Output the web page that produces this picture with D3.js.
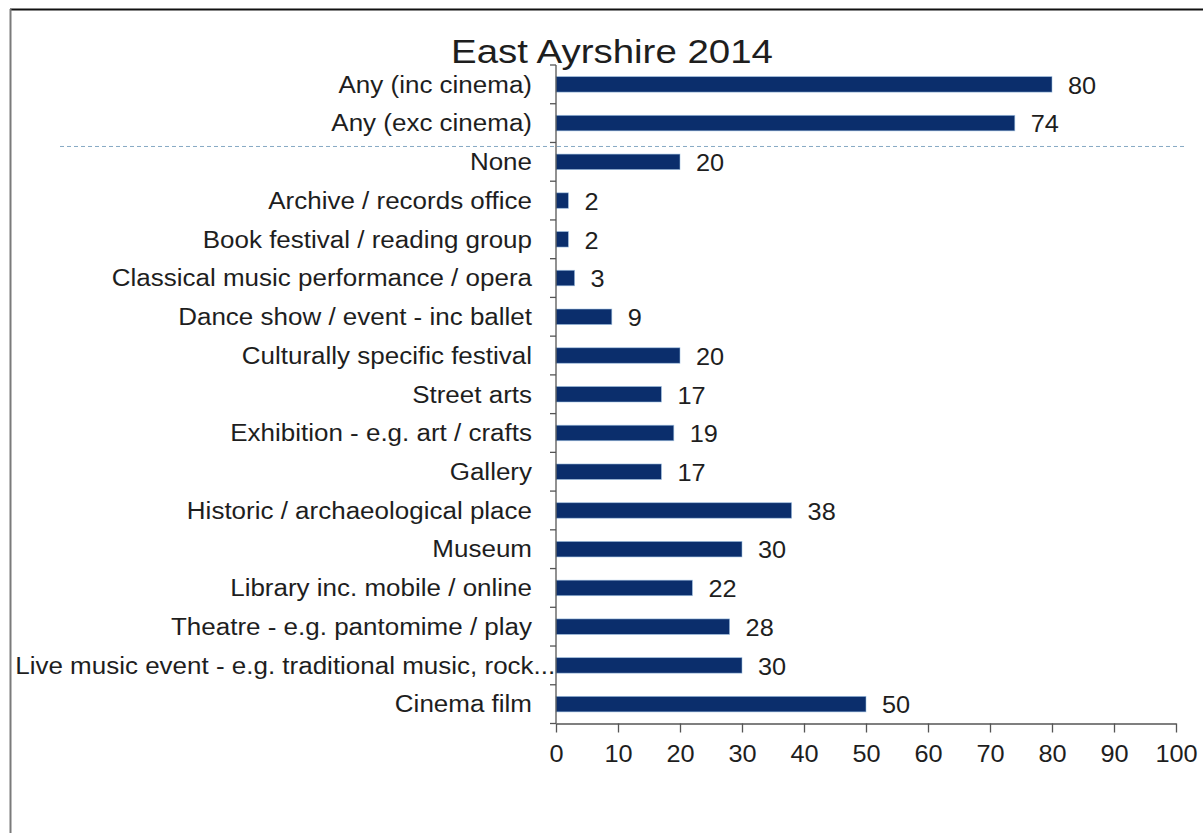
<!DOCTYPE html>
<html>
<head>
<meta charset="utf-8">
<script src="https://cdn.jsdelivr.net/npm/d3@7"></script>
<style>
  html, body { margin: 0; padding: 0; background: #fff; }
  svg { display: block; }
  text { font-family: "Liberation Sans", Arial, sans-serif; fill: #1e1e1e; }
</style>
</head>
<body>
<svg id="chart" width="1203" height="833"></svg>
<script>
// Attendance at cultural events / places, East Ayrshire 2014 (%)
const title = "East Ayrshire 2014";
const categories = [
  "Any (inc cinema)",
  "Any (exc cinema)",
  "None",
  "Archive / records office",
  "Book festival / reading group",
  "Classical music performance / opera",
  "Dance show / event - inc ballet",
  "Culturally specific festival",
  "Street arts",
  "Exhibition - e.g. art / crafts",
  "Gallery",
  "Historic / archaeological place",
  "Museum",
  "Library inc. mobile / online",
  "Theatre - e.g. pantomime / play",
  "Live music event - e.g. traditional music, rock...",
  "Cinema film"
];
const values = [80, 74, 20, 2, 2, 3, 9, 20, 17, 19, 17, 38, 30, 22, 28, 30, 50];
const xTicks = [0, 10, 20, 30, 40, 50, 60, 70, 80, 90, 100];
// the two summary rows sit above the separator line
const summaryRows = 2;

const svg = d3.select("#chart");
const W = 1203, H = 833;

const plot = { left: 556, right: 1176, top: 65, bottom: 723.5 };
const labelStretch = 1.13;
const valueStretch = 1.1;
const barColor = "#0b2e6c";
const axisColor = "#555";

svg.append("rect").attr("width", W).attr("height", H).attr("fill", "#fff");

// frame (top and left edges)
svg.append("line").attr("x1", 10).attr("x2", W).attr("y1", 9.5).attr("y2", 9.5)
  .attr("stroke", "#111").attr("stroke-width", 2);
svg.append("line").attr("x1", 10.5).attr("x2", 10.5).attr("y1", 9).attr("y2", H)
  .attr("stroke", "#7a7a7a").attr("stroke-width", 2);

const x = d3.scaleLinear().domain([0, 100]).range([plot.left, plot.right]);
const y = d3.scaleBand().domain(categories).range([plot.top, plot.bottom])
  .paddingInner(0.6).paddingOuter(0.3);
const step = y.step();
const gap = step - y.bandwidth();

// separator between summary rows and the individual activities
const sepY = y(categories[summaryRows]) - gap / 2 + 4;
svg.append("line")
  .attr("x1", 60).attr("x2", 1185).attr("y1", sepY).attr("y2", sepY)
  .attr("stroke", "#86a9c4").attr("stroke-width", 1).attr("stroke-dasharray", "4,3");

// bars
svg.append("g").selectAll("rect")
  .data(values)
  .join("rect")
  .attr("x", x(0))
  .attr("y", (d, i) => y(categories[i]))
  .attr("width", d => x(d) - x(0))
  .attr("height", y.bandwidth())
  .attr("fill", barColor)
  .attr("stroke", "#9cc0e2").attr("stroke-width", 0.8).attr("stroke-opacity", 0.7);

// value labels
svg.append("g").selectAll("text")
  .data(values)
  .join("text")
  .attr("transform", (d, i) => `translate(${x(d) + 16},${y(categories[i]) + y.bandwidth() / 2 + 1}) scale(${valueStretch},1)`)
  .attr("dy", "0.36em")
  .attr("font-size", 23)
  .text(d => d);

// x axis
const xAxis = svg.append("g")
  .attr("transform", `translate(0,${plot.bottom})`)
  .call(d3.axisBottom(x).tickValues(xTicks).tickSize(9).tickSizeOuter(0).tickPadding(0));
xAxis.select(".domain").attr("stroke", axisColor).attr("stroke-width", 1.3);
xAxis.selectAll(".tick line").attr("stroke", axisColor).attr("stroke-width", 1.3);
xAxis.selectAll(".tick text")
  .attr("y", 39).attr("dy", 0)
  .attr("font-size", 23)
  .attr("fill", "#1e1e1e")
  .attr("font-family", "Liberation Sans, Arial, sans-serif")
  .attr("transform", `scale(${valueStretch},1)`);

// y axis line and ticks at category boundaries
svg.append("line")
  .attr("x1", plot.left).attr("x2", plot.left)
  .attr("y1", plot.top).attr("y2", plot.bottom)
  .attr("stroke", axisColor).attr("stroke-width", 1.3);
const boundaries = categories.map(c => y(c) - gap / 2).concat([plot.bottom]);
svg.append("g").selectAll("line")
  .data(boundaries)
  .join("line")
  .attr("x1", plot.left - 6).attr("x2", plot.left)
  .attr("y1", d => d).attr("y2", d => d)
  .attr("stroke", axisColor).attr("stroke-width", 1.3);

// category labels, right aligned against the axis, kept inside the frame
const labels = svg.append("g").selectAll("text")
  .data(categories)
  .join("text")
  .attr("text-anchor", "end")
  .attr("dy", "0.36em")
  .attr("font-size", 23)
  .text(d => d);
labels.each(function (d) {
  const w = this.getComputedTextLength() * labelStretch;
  let right = plot.left - 24;
  if (right - w < 15) right = 15 + w;
  d3.select(this).attr("transform",
    `translate(${right},${y(d) + y.bandwidth() / 2}) scale(${labelStretch},1)`);
});

// title
svg.append("text")
  .attr("transform", `translate(612,63) scale(1.165,1)`)
  .attr("text-anchor", "middle")
  .attr("font-size", 33)
  .text(title);
</script>
</body>
</html>
